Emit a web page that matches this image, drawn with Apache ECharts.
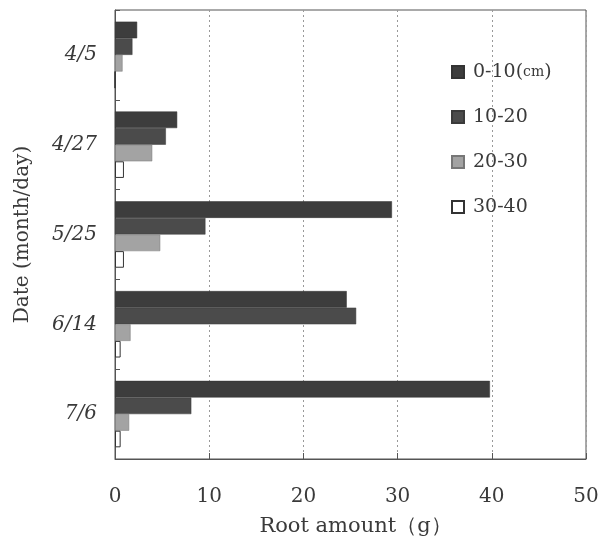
<!DOCTYPE html>
<html>
<head>
<meta charset="utf-8">
<script src="https://cdn.jsdelivr.net/npm/echarts@6/dist/echarts.min.js"></script>
<style>
  html, body { margin: 0; padding: 0; background: #fff; }
  #chart { width: 607px; height: 542px; }
</style>
</head>
<body>
<div id="chart"></div>
<script>
// Sampling dates (month/day), top to bottom
const dates = ['4/5', '4/27', '5/25', '6/14', '7/6'];

// Root amount (g) per soil depth layer
const depth0to10 = [2.35, 6.6, 29.4, 24.6, 39.8];
const depth10to20 = [1.85, 5.4, 9.6, 25.6, 8.1];
const depth20to30 = [0.8, 3.95, 4.8, 1.65, 1.5];
const depth30to40 = [0, 0.95, 0.95, 0.6, 0.6];

const layerNames = ['0-10(cm)', '10-20', '20-30', '30-40'];

// Value axis range
const xMin = 0;
const xMax = 50;
const xStep = 10;

const serif = 'DejaVu Serif, Liberation Serif, serif';
const ink = '#3a3a3a';

const layerData = [depth0to10, depth10to20, depth20to30, depth30to40];
const layerStyles = [
  { color: '#3d3d3d', borderColor: '#333', borderWidth: 0.5 },
  { color: '#4b4b4b', borderColor: '#3a3a3a', borderWidth: 0.5 },
  { color: '#a3a3a3', borderColor: '#777', borderWidth: 0.5 },
  { color: '#ffffff', borderColor: '#333', borderWidth: 1 }
];

const chart = echarts.init(document.getElementById('chart'));

chart.setOption({
  backgroundColor: '#fff',
  animation: false,
  grid: {
    left: 115, right: 21, top: 10, bottom: 83,
    show: true,
    borderColor: '#555',
    borderWidth: 1
  },
  legend: {
    orient: 'vertical',
    left: 446,
    top: 57,
    itemWidth: 12,
    itemHeight: 12,
    itemGap: 25,
    icon: 'rect',
    data: layerNames,
    formatter: function (name) {
      return name === '0-10(cm)' ? '0-10({s|cm})' : name;
    },
    textStyle: {
      fontFamily: serif,
      fontSize: 19,
      lineHeight: 20,
      color: ink,
      padding: [0, 0, 0, 4],
      rich: {
        s: { fontFamily: serif, fontSize: 14, color: ink }
      }
    }
  },
  xAxis: {
    type: 'value',
    min: xMin,
    max: xMax,
    interval: xStep,
    name: 'Root amount（g）',
    nameLocation: 'middle',
    nameGap: 57,
    nameTextStyle: { fontFamily: serif, fontSize: 21, color: ink, padding: [0, 0, 0, 10] },
    axisLine: { show: true, lineStyle: { color: '#555', width: 1 } },
    axisTick: { show: true, inside: true, length: 6, lineStyle: { color: '#555' } },
    axisLabel: { margin: 28, fontFamily: serif, fontSize: 20, color: ink },
    splitLine: { show: true, lineStyle: { color: '#999', type: [2, 3], width: 1 } }
  },
  yAxis: {
    type: 'category',
    data: dates,
    inverse: true,
    name: 'Date (month/day)',
    nameLocation: 'middle',
    nameGap: 82,
    nameTextStyle: { fontFamily: serif, fontSize: 20, color: ink },
    axisLine: { show: true, lineStyle: { color: '#555', width: 1 } },
    axisTick: { show: true, inside: true, length: 5, lineStyle: { color: '#555' } },
    axisLabel: { margin: 18, fontFamily: serif, fontSize: 20, fontStyle: 'italic', color: ink },
    splitLine: { show: false }
  },
  series: layerNames.map(function (name, i) {
    return {
      name: name,
      type: 'bar',
      data: layerData[i],
      barGap: '0%',
      barCategoryGap: '26%',
      itemStyle: layerStyles[i]
    };
  })
});
</script>
</body>
</html>
